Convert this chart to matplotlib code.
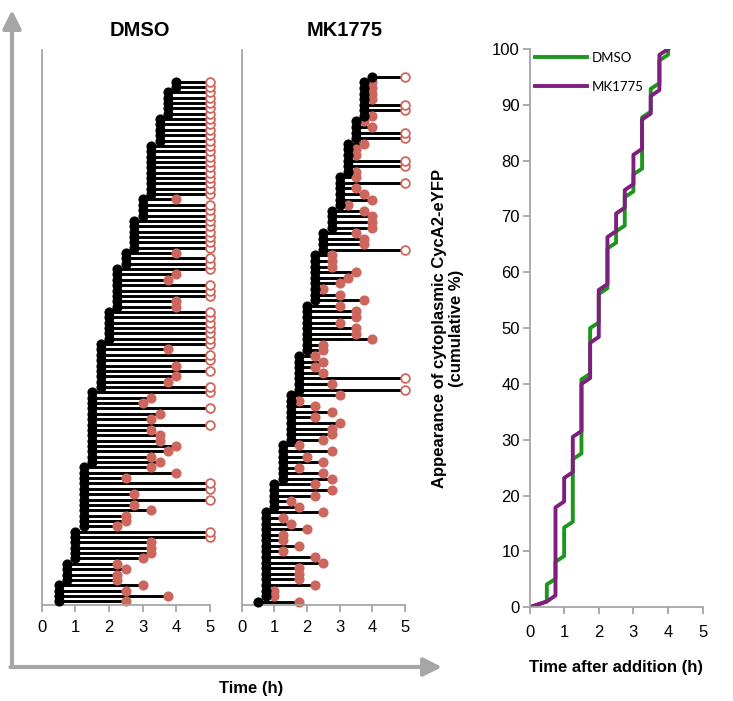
import numpy as np
import matplotlib.pyplot as plt

plt.rcParams['font.family'] = ['Liberation Sans', 'DejaVu Sans']

# one entry per cell, bottom row first; end = 5 means no exit seen before 5 h
dmso_start = [0.5, 0.5, 0.5, 0.5,
              0.75, 0.75, 0.75, 0.75,
              1.0, 1.0, 1.0, 1.0, 1.0, 1.0,
              1.25, 1.25, 1.25, 1.25, 1.25, 1.25, 1.25, 1.25, 1.25, 1.25, 1.25, 1.25,
              1.5, 1.5, 1.5, 1.5, 1.5, 1.5, 1.5, 1.5, 1.5, 1.5, 1.5, 1.5, 1.5, 1.5,
              1.75, 1.75, 1.75, 1.75, 1.75, 1.75, 1.75, 1.75, 1.75,
              2.0, 2.0, 2.0, 2.0, 2.0, 2.0,
              2.25, 2.25, 2.25, 2.25, 2.25, 2.25, 2.25, 2.25,
              2.5, 2.5, 2.5,
              2.75, 2.75, 2.75, 2.75, 2.75, 2.75,
              3.0, 3.0, 3.0, 3.0,
              3.25, 3.25, 3.25, 3.25, 3.25, 3.25, 3.25, 3.25, 3.25, 3.25,
              3.5, 3.5, 3.5, 3.5, 3.5,
              3.75, 3.75, 3.75, 3.75, 3.75,
              4.0, 4.0]
dmso_end = [2.5, 3.75, 2.5, 3.0,
            2.25, 2.25, 2.5, 2.25,
            3.0, 3.25, 3.25, 3.25, 5, 5,
            2.25, 2.5, 2.5, 3.25, 2.75, 5, 2.75, 5, 5, 2.5, 4.0, 3.25,
            3.5, 3.25, 3.75, 4.0, 3.5, 3.5, 3.25, 5, 3.25, 3.5, 5, 3.0, 3.25, 5,
            5, 3.75, 4.0, 5, 4.0, 5, 5, 3.75, 5,
            5, 5, 5, 5, 5, 5,
            4.0, 4.0, 5, 5, 5, 3.75, 4.0, 5,
            5, 5, 4.0,
            5, 5, 5, 5, 5, 5,
            5, 5, 5, 4.0,
            5, 5, 5, 5, 5, 5, 5, 5, 5, 5,
            5, 5, 5, 5, 5,
            5, 5, 5, 5, 5,
            5, 5]

mk_start = [0.5,
            0.75, 0.75, 0.75, 0.75, 0.75, 0.75, 0.75, 0.75,
            0.75, 0.75, 0.75, 0.75, 0.75, 0.75, 0.75, 0.75,
            1.0, 1.0, 1.0, 1.0, 1.0,
            1.25, 1.25, 1.25, 1.25, 1.25, 1.25, 1.25,
            1.5, 1.5, 1.5, 1.5, 1.5, 1.5, 1.5, 1.5, 1.5,
            1.75, 1.75, 1.75, 1.75, 1.75, 1.75, 1.75,
            2.0, 2.0, 2.0, 2.0, 2.0, 2.0, 2.0, 2.0, 2.0,
            2.25, 2.25, 2.25, 2.25, 2.25, 2.25, 2.25, 2.25, 2.25,
            2.5, 2.5, 2.5, 2.5,
            2.75, 2.75, 2.75, 2.75,
            3.0, 3.0, 3.0, 3.0, 3.0, 3.0,
            3.25, 3.25, 3.25, 3.25, 3.25, 3.25,
            3.5, 3.5, 3.5, 3.5,
            3.75, 3.75, 3.75, 3.75, 3.75, 3.75, 3.75,
            4.0]
mk_end = [1.75,
          1.0, 1.0, 2.25, 1.75, 1.75, 1.75, 2.5, 2.25,
          1.25, 1.75, 1.25, 1.25, 2.0, 1.5, 1.25, 2.5,
          1.75, 1.5, 2.25, 2.75, 2.25,
          2.75, 2.5, 1.75, 2.5, 2.0, 2.75, 1.75,
          2.5, 2.75, 2.75, 3.0, 2.25, 2.75, 2.25, 1.75, 3.0,
          5, 2.75, 5, 2.5, 2.25, 2.5, 2.25,
          2.5, 2.5, 4.0, 3.5, 3.5, 3.0, 3.5, 3.5, 3.0,
          3.75, 3.0, 2.5, 3.0, 3.25, 3.5, 2.75, 2.75, 2.75,
          5, 3.75, 3.75, 3.5,
          4.0, 4.0, 4.0, 3.75,
          3.25, 4.0, 3.75, 3.5, 5, 3.5,
          3.5, 5, 5, 3.5, 3.5, 3.75,
          5, 5, 4.0, 3.75,
          4.0, 5, 5, 4.0, 4.0, 4.0, 4.0,
          5]

groups = ['DMSO', 'MK1775']
time_ticks = [0, 1, 2, 3, 4, 5]
pct_ticks = [0, 10, 20, 30, 40, 50, 60, 70, 80, 90, 100]

red = '#CD665C'
grey = '#A6A6A6'
green = '#1E961E'
purple = '#7E1E7E'

W, H = 733, 701
fig = plt.figure(figsize=(7.33, 7.01), dpi=100)


def px_box(x0, y0, x1, y1):
    return [x0 / W, 1 - y1 / H, (x1 - x0) / W, (y1 - y0) / H]


# big grey axis arrows behind the two cell panels
bg = fig.add_axes([0, 0, 1, 1])
bg.set_xlim(0, W)
bg.set_ylim(H, 0)
bg.axis('off')
arrow = dict(arrowstyle='-|>,head_length=1.1,head_width=0.55', lw=3, color=grey,
             mutation_scale=10, shrinkA=0, shrinkB=0)
bg.annotate('', xy=(12, 10), xytext=(12, 667), arrowprops=arrow)
bg.annotate('', xy=(442, 667), xytext=(10.5, 667), arrowprops=arrow)


def draw_cells(ax, start, end, title, title_x):
    start = np.asarray(start)
    end = np.asarray(end)
    rows = np.arange(len(start))
    ax.hlines(rows, start, end, color='black', lw=2.1, zorder=1)
    done = end < 5
    ax.plot(end[done], rows[done], 'o', color=red, ms=7.3, mec='none', zorder=2, clip_on=False)
    ax.plot(end[~done], rows[~done], 'o', mfc='white', mec=red, ms=6.3, mew=1.3,
            zorder=2, clip_on=False)
    ax.plot(start, rows, 'o', color='black', ms=7.3, mec='none', zorder=3, clip_on=False)
    ax.set_xlim(0, 5)
    ax.set_xticks(time_ticks)
    ax.set_yticks([])
    for s in ['top', 'right']:
        ax.spines[s].set_visible(False)
    for s in ['left', 'bottom']:
        ax.spines[s].set_color(grey)
        ax.spines[s].set_linewidth(1.3)
    ax.tick_params(axis='x', direction='out', length=5, width=1.3, color=grey,
                   labelsize=12, pad=6)
    ax.patch.set_alpha(0)
    fig.text(title_x / W, 1 - 30 / H, title, ha='center', va='center',
             fontsize=14.5, fontweight='bold')


ax1 = fig.add_axes(px_box(41.7, 50, 210, 605))
draw_cells(ax1, dmso_start, dmso_end, groups[0], 140)
ax1.set_ylim(-0.69, 102.9)

ax2 = fig.add_axes(px_box(241.7, 50, 405, 605))
draw_cells(ax2, mk_start, mk_end, groups[1], 345)
ax2.set_ylim(-0.59, 98.8)

fig.text(251 / W, 1 - 688 / H, 'Time (h)', ha='center', va='center',
         fontsize=12, fontweight='bold')


# cumulative appearance curve
def cumulative(start):
    t = np.sort(np.asarray(start))
    pct = np.arange(1, len(t) + 1) / len(t) * 100
    return np.r_[0, t], np.r_[0, pct]


ax3 = fig.add_axes(px_box(529.5, 49, 702.7, 607.3))
for st, col, lab in [(dmso_start, green, groups[0]), (mk_start, purple, groups[1])]:
    x, y = cumulative(st)
    ax3.plot(x, y, color=col, lw=2.8, label=lab)
ax3.set_xlim(0, 5)
ax3.set_ylim(0, 100)
ax3.set_xticks(time_ticks)
ax3.set_yticks(pct_ticks)
for s in ['top', 'right']:
    ax3.spines[s].set_visible(False)
for s in ['left', 'bottom']:
    ax3.spines[s].set_color(grey)
    ax3.spines[s].set_linewidth(1.3)
ax3.tick_params(direction='out', length=5, width=1.3, color=grey, labelsize=12)
ax3.tick_params(axis='x', pad=8)
ax3.tick_params(axis='y', pad=2)
ax3.set_xlabel('Time after addition (h)', fontsize=12, fontweight='bold', labelpad=14)
fig.text(448 / W, 1 - 328 / H, 'Appearance of cytoplasmic CycA2-eYFP\n(cumulative %)',
         rotation=90, ha='center', va='center', multialignment='center',
         fontsize=12, fontweight='bold', linespacing=1.15)
ax3.legend(loc='upper left', bbox_to_anchor=(0.03, 0.995), frameon=False,
           borderaxespad=0, borderpad=0, handlelength=4.0, handletextpad=0.3,
           labelspacing=1.3, prop={'family': ['Lato', 'DejaVu Sans'], 'size': 9.5})

fig.savefig('out.png', dpi=100)
